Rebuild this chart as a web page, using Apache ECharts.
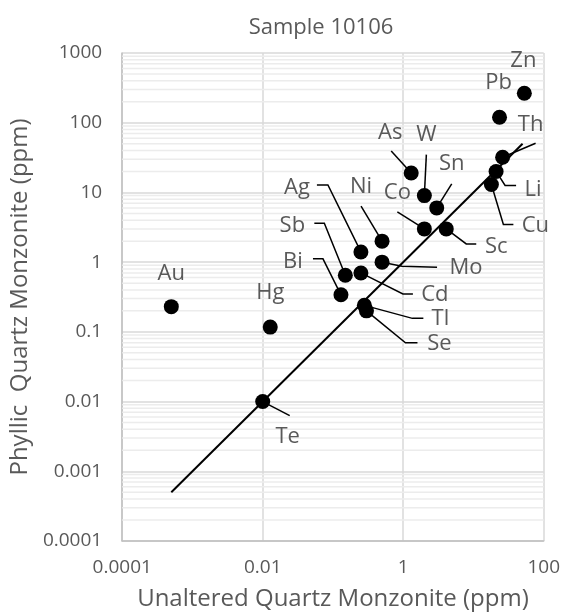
<!DOCTYPE html>
<html>
<head>
<meta charset="utf-8">
<script src="https://cdn.jsdelivr.net/npm/echarts@6/dist/echarts.min.js"></script>
<style>
  html, body { margin: 0; padding: 0; background: #fff; }
  #chart { width: 563px; height: 616px; }
</style>
</head>
<body>
<div id="chart"></div>
<script>
// element names and concentrations (ppm)
var elements = ['Au', 'Hg', 'Te', 'Bi', 'Sb', 'Cd', 'Ag', 'Ni', 'Mo', 'Tl', 'Se', 'Co', 'Sc', 'W', 'Sn', 'As', 'Cu', 'Li', 'Th', 'Pb', 'Zn'];
var unaltered = [0.0005, 0.0128, 0.01, 0.13, 0.15, 0.25, 0.25, 0.5, 0.5, 0.28, 0.3, 2.0, 4.1, 2.0, 3.0, 1.3, 18, 21, 26, 23.5, 53];
var phyllic = [0.23, 0.117, 0.01, 0.34, 0.65, 0.7, 1.4, 2.0, 1.0, 0.24, 0.2, 3.0, 3.0, 9.0, 6.0, 19, 13, 20, 32, 120, 265];
// 1:1 reference line
var refLineX = [0.0005, 50];
var refLineY = [0.0005, 50];
// axis ticks
var xTicks = [0.0001, 0.01, 1, 100];
var yTicks = [0.0001, 0.001, 0.01, 0.1, 1, 10, 100, 1000];

var textColor = '#595959';
var fontFam = '"Open Sans", "Noto Sans", sans-serif';

// label placement, pixels relative to the dot: text centre + leader line corners
var labelLayout = {
	Au: { text: [0, -33] },
	Hg: { text: [0, -34] },
	Te: { text: [25, 35], leader: [[27, 14]] },
	Bi: { text: [-48, -33], leader: [[-18, -36], [-28, -36]] },
	Sb: { text: [-53, -49], leader: [[-21, -52], [-31, -52]] },
	Cd: { text: [74, 22], leader: [[42, 21], [52, 21]] },
	Ag: { text: [-64, -64], leader: [[-33, -67], [-44, -67]] },
	Ni: { text: [-21, -54], leader: [[-21, -35]] },
	Mo: { text: [84, 6], leader: [[20, 4], [55, 5]] },
	Tl: { text: [76, 13], leader: [[48, 13], [59, 13]] },
	Se: { text: [73, 33], leader: [[39, 32], [51, 32]] },
	Co: { text: [-27, -36], leader: [[-27, -17]] },
	Sc: { text: [50, 18], leader: [[20, 15], [30, 15]] },
	W: { text: [2, -61], leader: [[2, -41]] },
	Sn: { text: [15, -44], leader: [[15, -24]] },
	As: { text: [-21, -40], leader: [[-20, -22]] },
	Cu: { text: [44, 41], leader: [[12, 40], [22, 40]] },
	Li: { text: [37, 18], leader: [[9, 14], [20, 14]] },
	Th: { text: [28, -32], leader: [[33, -14]] },
	Pb: { text: [-1, -34] },
	Zn: { text: [-1, -32] }
};

// minor gridline values 2..9 in every decade of y
var yMinor = [];
for (var d = 0; d < yTicks.length - 1; d++) {
	for (var m = 2; m <= 9; m++) {
		yMinor.push(yTicks[d] * m);
	}
}

function fmt(v) {
	return String(+(+v).toPrecision(3));
}

var chart = echarts.init(document.getElementById('chart'));
var option = {
	backgroundColor: '#fff',
	animation: false,
	title: {
		text: 'Sample 10106',
		left: 316,
		textAlign: 'center',
		top: 12,
		textStyle: { color: textColor, fontFamily: fontFam, fontSize: 22, fontWeight: 'normal' }
	},
	grid: { left: 115, right: 19, top: 53, bottom: 75 },
	xAxis: {
		type: 'log',
		logBase: 100,
		min: xTicks[0],
		max: xTicks[xTicks.length - 1],
		splitNumber: 3,
		name: 'Unaltered Quartz Monzonite (ppm)',
		nameLocation: 'middle',
		nameGap: 46,
		nameTextStyle: { color: textColor, fontFamily: fontFam, fontSize: 24 },
		axisLine: { show: true, lineStyle: { color: '#bfbfbf', width: 1.5 } },
		axisTick: { show: false },
		axisLabel: { color: textColor, fontFamily: fontFam, fontSize: 19, margin: 17, formatter: fmt },
		splitLine: { show: true, lineStyle: { color: '#d9d9d9', width: 1.5 } }
	},
	yAxis: {
		type: 'log',
		logBase: 10,
		min: yTicks[0],
		max: yTicks[yTicks.length - 1],
		splitNumber: 7,
		name: 'Phyllic  Quartz Monzonite (ppm)',
		nameLocation: 'middle',
		nameGap: 77,
		nameTextStyle: { color: textColor, fontFamily: fontFam, fontSize: 24 },
		axisLine: { show: true, lineStyle: { color: '#bfbfbf', width: 1.5 } },
		axisTick: { show: false },
		axisLabel: { color: textColor, fontFamily: fontFam, fontSize: 19, margin: 20, formatter: fmt },
		splitLine: { show: true, lineStyle: { color: '#d9d9d9', width: 1.5 } }
	},
	series: [{
			// minor horizontal gridlines
			type: 'custom',
			z: 1,
			silent: true,
			data: yMinor,
			clip: true,
			renderItem: function(params, api) {
				var v = api.value(0);
				var a = api.coord([xTicks[0], v]);
				var b = api.coord([xTicks[xTicks.length - 1], v]);
				return {
					type: 'line',
					shape: { x1: a[0], y1: a[1], x2: b[0], y2: b[1] },
					style: { stroke: '#ececec', lineWidth: 1.5 }
				};
			},
			encode: { y: 0 }
		},
		{
			type: 'line',
			z: 3,
			silent: true,
			symbol: 'none',
			lineStyle: { color: '#000', width: 2 },
			data: refLineX.map(function(x, i) { return [x, refLineY[i]]; })
		},
		{
			// labels with leader lines
			type: 'custom',
			z: 4,
			silent: true,
			data: elements.map(function(n, i) { return [unaltered[i], phyllic[i]]; }),
			renderItem: function(params, api) {
				var name = elements[params.dataIndex];
				var p = api.coord([api.value(0), api.value(1)]);
				var lay = labelLayout[name];
				var children = [];
				if (lay.leader) {
					var pts = [p].concat(lay.leader.map(function(o) { return [p[0] + o[0], p[1] + o[1]]; }));
					children.push({
						type: 'polyline',
						shape: { points: pts },
						style: { stroke: '#000', lineWidth: 1.5, fill: null }
					});
				}
				children.push({
					type: 'text',
					style: {
						text: name,
						x: p[0] + lay.text[0],
						y: p[1] + lay.text[1],
						align: 'center',
						verticalAlign: 'middle',
						font: '22px ' + fontFam,
						fill: textColor
					}
				});
				return { type: 'group', children: children };
			},
			encode: { x: 0, y: 1 }
		},
		{
			type: 'scatter',
			z: 5,
			symbol: 'circle',
			symbolSize: 15,
			itemStyle: { color: '#000', opacity: 1 },
			data: elements.map(function(n, i) { return [unaltered[i], phyllic[i]]; })
		}
	]
};
chart.setOption(option);
</script>
</body>
</html>
